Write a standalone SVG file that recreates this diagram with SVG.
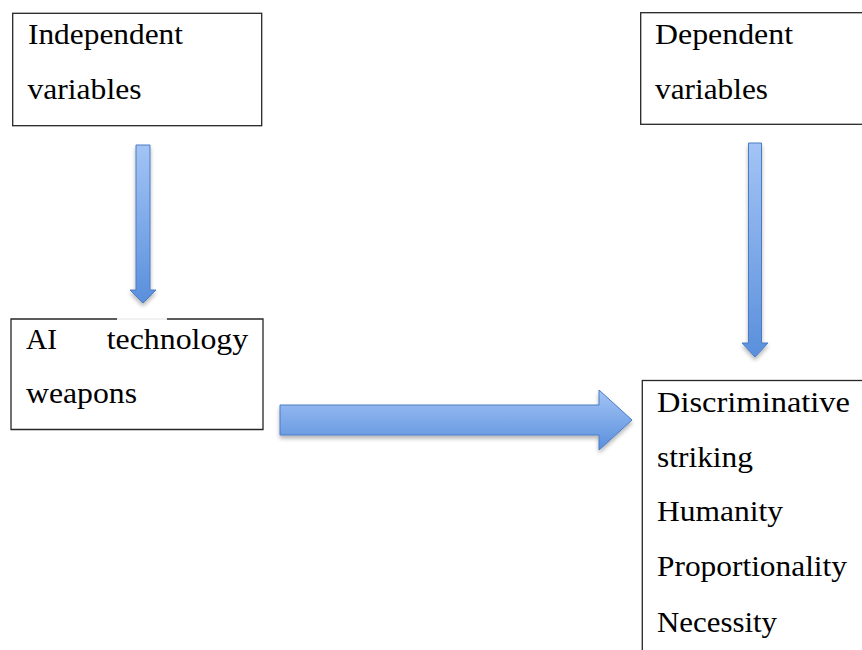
<svg xmlns="http://www.w3.org/2000/svg" width="862" height="650" viewBox="0 0 862 650">
<defs>
<linearGradient id="gv" x1="0" y1="0" x2="0" y2="1">
<stop offset="0" stop-color="#a3c4f5"/>
<stop offset="1" stop-color="#5a8fdc"/>
</linearGradient>
<filter id="sh" x="-20%" y="-20%" width="140%" height="160%">
<feGaussianBlur in="SourceAlpha" stdDeviation="2"/>
<feOffset dy="3" result="b"/>
<feComponentTransfer><feFuncA type="linear" slope="0.3"/></feComponentTransfer>
<feMerge><feMergeNode/><feMergeNode in="SourceGraphic"/></feMerge>
</filter>
</defs>
<style>
.box{fill:#fff;stroke:#262626;stroke-width:1.3}
.t{font-family:"Liberation Serif","Times New Roman",serif;font-size:29px;fill:#000}
.arr{stroke:#4a7cc4;stroke-width:1;filter:url(#sh)}
</style>
<rect width="862" height="650" fill="#fff"/>

<g id="connectors">
<path class="arr" fill="url(#gv)" d="M136,145 H150 V290 H156 L143,303 L130,290 H136 Z"/>
<path class="arr" fill="url(#gv)" d="M748.5,143 H761.5 V343 H768 L755,357 L742,343 H748.5 Z"/>
<path class="arr" fill="url(#gv)" d="M280,405 H599 V390 L632,420 L599,450 V435 H280 Z"/>
</g>

<g id="independent">
<rect class="box" x="12.7" y="13.3" width="249" height="112.4"/>
<text class="t" x="28" y="43.5" textLength="155" lengthAdjust="spacingAndGlyphs">Independent</text>
<text class="t" x="27.5" y="98.5" textLength="114" lengthAdjust="spacingAndGlyphs">variables</text>
</g>

<g id="dependent">
<rect class="box" x="640.7" y="12.7" width="240" height="111.6"/>
<text class="t" x="655" y="43.5" textLength="138" lengthAdjust="spacingAndGlyphs">Dependent</text>
<text class="t" x="655" y="98.5" textLength="113" lengthAdjust="spacingAndGlyphs">variables</text>
</g>

<g id="ai-weapons">
<path fill="#fff" stroke="#262626" stroke-width="1.3" d="M117,319 H11 V429.5 H263 V319 H167"/>
<line x1="117" y1="319" x2="167" y2="319" stroke="#e2e2e2" stroke-width="1"/>
<text class="t" x="26" y="348.5" textLength="31" lengthAdjust="spacingAndGlyphs">AI</text>
<text class="t" x="106.7" y="348.5" textLength="141.5" lengthAdjust="spacingAndGlyphs">technology</text>
<text class="t" x="26" y="402.5" textLength="111" lengthAdjust="spacingAndGlyphs">weapons</text>
</g>

<g id="outcomes">
<rect class="box" x="642.3" y="380.5" width="240" height="300"/>
<text class="t" x="657" y="411.5" textLength="193" lengthAdjust="spacingAndGlyphs">Discriminative</text>
<text class="t" x="657" y="466.5" textLength="96" lengthAdjust="spacingAndGlyphs">striking</text>
<text class="t" x="657" y="521" textLength="126" lengthAdjust="spacingAndGlyphs">Humanity</text>
<text class="t" x="657" y="576" textLength="190" lengthAdjust="spacingAndGlyphs">Proportionality</text>
<text class="t" x="657" y="632" textLength="120" lengthAdjust="spacingAndGlyphs">Necessity</text>
</g>
</svg>
